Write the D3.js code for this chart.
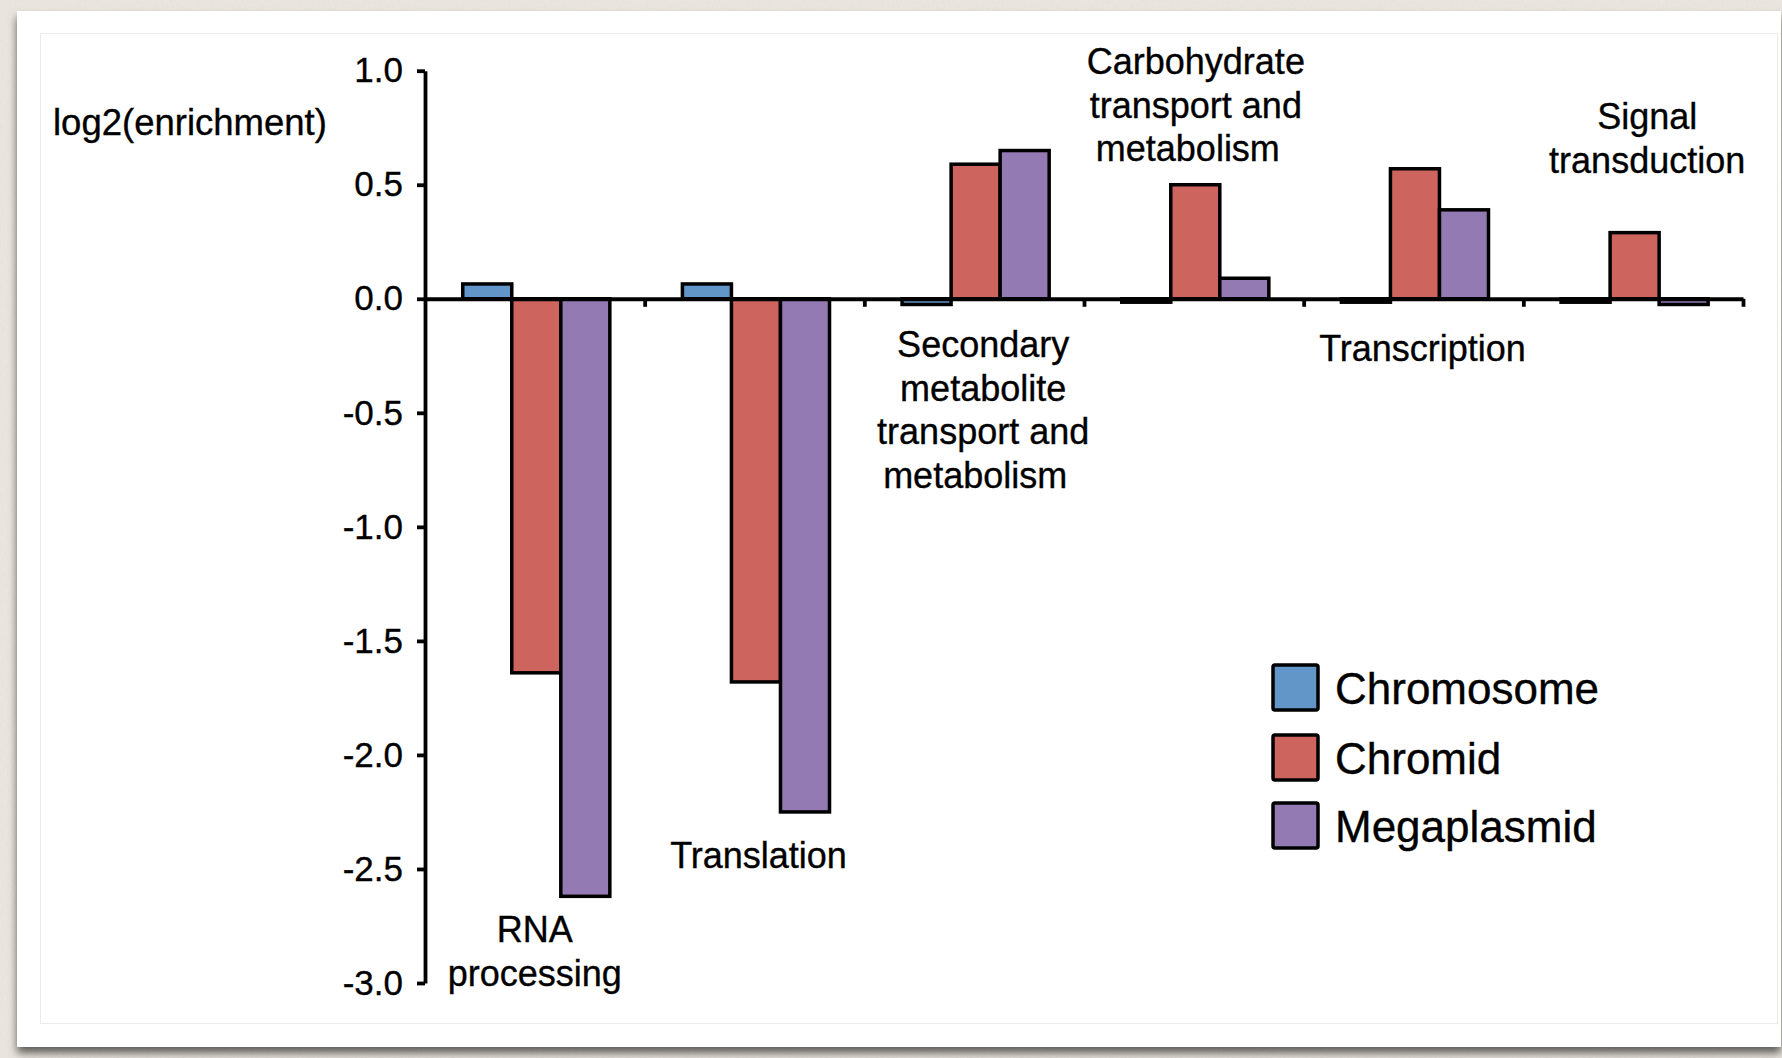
<!DOCTYPE html>
<html>
<head>
<meta charset="utf-8">
<script src="https://cdn.jsdelivr.net/npm/d3@7"></script>
<style>
  html, body { margin: 0; padding: 0; background: #ece8e1; }
  svg { display: block; }
  text { font-family: "Liberation Sans", Arial, Helvetica, sans-serif; fill: #000; stroke: #000; stroke-width: 0.35px; }
</style>
</head>
<body>
<svg id="chart" width="1782" height="1058"></svg>
<script>
// ---- data ----
const categories = [
  "RNA processing",
  "Translation",
  "Secondary metabolite transport and metabolism",
  "Carbohydrate transport and metabolism",
  "Transcription",
  "Signal transduction"
];
const categoryLines = [
  ["RNA", "processing"],
  ["Translation"],
  ["Secondary", "metabolite", "transport and", "metabolism"],
  ["Carbohydrate", "transport and", "metabolism"],
  ["Transcription"],
  ["Signal", "transduction"]
];
const seriesNames = ["Chromosome", "Chromid", "Megaplasmid"];
const chromosome  = [0.065, 0.065, -0.025, -0.015, -0.015, -0.015];
const chromid     = [-1.64, -1.68, 0.59, 0.50, 0.57, 0.29];
const megaplasmid = [-2.62, -2.25, 0.65, 0.09, 0.39, -0.025];
const yTicks = [1.0, 0.5, 0.0, -0.5, -1.0, -1.5, -2.0, -2.5, -3.0];
const yTitle = "log2(enrichment)";

// ---- styling / layout ----
const seriesColors = ["#6396c8", "#cd655e", "#947ab2"];
// where each category caption sits: shift from band centre and first baseline
const captionPlacement = [
  { dx: 0,  y: 942 },
  { dx: 4,  y: 868 },
  { dx: 9,  y: 357 },
  { dx: 2,  y: 74 },
  { dx: 9,  y: 361 },
  { dx: 14, y: 129 }
];
const captionLineHeight = 43.5;
const legendRows = [0, 70, 138];

const svg = d3.select("#chart");
const defs = svg.append("defs");

// linen-like page texture
const tex = defs.append("filter").attr("id", "linen")
  .attr("x", 0).attr("y", 0).attr("width", "100%").attr("height", "100%");
tex.append("feTurbulence").attr("type", "fractalNoise")
  .attr("baseFrequency", "0.9 0.25").attr("numOctaves", 2).attr("seed", 3).attr("result", "n");
tex.append("feColorMatrix").attr("in", "n").attr("type", "matrix")
  .attr("values", "0 0 0 0 0.55  0 0 0 0 0.5  0 0 0 0 0.42  0 0 0 0.18 0").attr("result", "c");
tex.append("feComposite").attr("in", "c").attr("in2", "SourceGraphic").attr("operator", "over");

const shadow = defs.append("filter").attr("id", "cardShadow")
  .attr("x", "-5%").attr("y", "-5%").attr("width", "110%").attr("height", "110%");
shadow.append("feDropShadow").attr("dx", 0).attr("dy", 6).attr("stdDeviation", 4)
  .attr("flood-color", "#000").attr("flood-opacity", 0.6);

svg.append("rect").attr("width", 1782).attr("height", 1058)
  .attr("fill", "#ece8e1").attr("filter", "url(#linen)");

// white card with a faint inner frame
svg.append("rect").attr("x", 17).attr("y", 11).attr("width", 1764).attr("height", 1036)
  .attr("fill", "#fff").attr("filter", "url(#cardShadow)");
svg.append("rect").attr("x", 40.5).attr("y", 33.5).attr("width", 1737).attr("height", 990)
  .attr("fill", "none").attr("stroke", "#ebebeb").attr("stroke-width", 1);

// ---- scales ----
const y = d3.scaleLinear().domain([-3, 1]).range([983, 70.7]);
const x0 = d3.scaleBand().domain(categories).range([425, 1743]).padding(0);
const x1 = d3.scaleBand().domain(seriesNames).range([0, x0.bandwidth()])
  .paddingInner(0).paddingOuter(0.74).align(0.52);
const xEdges = d3.scaleLinear().domain([0, categories.length]).range(x0.range());

const seriesValues = [chromosome, chromid, megaplasmid];
const barData = [];
categories.forEach((c, i) => {
  seriesNames.forEach((s, j) => {
    barData.push({ cat: c, series: s, value: seriesValues[j][i], color: seriesColors[j] });
  });
});

// ---- bars ----
svg.append("g").selectAll("rect").data(barData).join("rect")
  .attr("x", d => x0(d.cat) + x1(d.series))
  .attr("width", x1.bandwidth())
  .attr("y", d => y(Math.max(0, d.value)))
  .attr("height", d => Math.abs(y(d.value) - y(0)))
  .attr("fill", d => d.color)
  .attr("stroke", "#000")
  .attr("stroke-width", 3.5);

// ---- axes ----
const yAxis = d3.axisLeft(y).tickValues(yTicks).tickSize(8).tickSizeOuter(0)
  .tickPadding(14).tickFormat(d => d.toFixed(1));
const gy = svg.append("g").attr("transform", `translate(425,0)`).call(yAxis);
gy.selectAll("path, line").attr("stroke", "#000").attr("stroke-width", 3.8);
gy.selectAll("text").attr("font-size", 35).attr("fill", "#000");
gy.attr("font-family", null).attr("font-size", null);

const xAxis = d3.axisBottom(xEdges).tickValues(d3.range(1, categories.length + 1))
  .tickSize(8).tickSizeOuter(0).tickFormat("");
const gx = svg.append("g").attr("transform", `translate(0,${y(0)})`).call(xAxis);
gx.selectAll("path, line").attr("stroke", "#000").attr("stroke-width", 3.8);

// ---- y title ----
svg.append("text").attr("x", 53).attr("y", 135).attr("font-size", 36.5).text(yTitle);

// ---- category captions ----
const caps = svg.append("g").selectAll("text").data(categories).join("text")
  .attr("text-anchor", "middle")
  .attr("font-size", 36)
  .attr("transform", (c, i) =>
    `translate(${x0(c) + x0.bandwidth() / 2 + captionPlacement[i].dx},${captionPlacement[i].y})`);
caps.each(function (c, i) {
  d3.select(this).selectAll("tspan").data(categoryLines[i]).join("tspan")
    .attr("x", (l, k, all) => (k === all.length - 1 && all.length > 2 ? -8 : 0))
    .attr("y", (l, k) => k * captionLineHeight).text(l => l);
});

// ---- legend ----
const legend = svg.append("g").attr("transform", "translate(1273,665)");
const items = legend.selectAll("g").data(seriesNames).join("g")
  .attr("transform", (d, i) => `translate(0,${legendRows[i]})`);
items.append("rect").attr("width", 45).attr("height", 45).attr("rx", 2)
  .attr("fill", (d, i) => seriesColors[i]).attr("stroke", "#000").attr("stroke-width", 3.5);
items.append("text").attr("x", 62).attr("y", 39).attr("font-size", 44).text(d => d);
</script>
</body>
</html>
